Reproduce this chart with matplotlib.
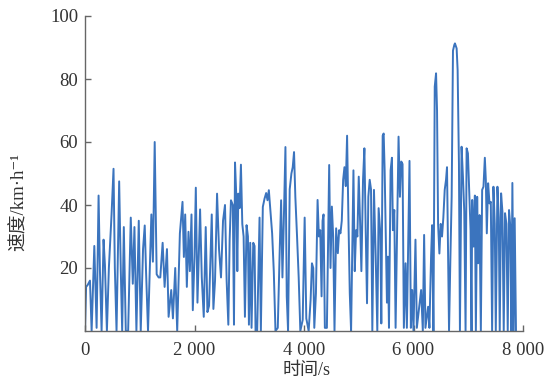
import matplotlib
matplotlib.use("Agg")
import matplotlib.pyplot as plt

# 时间 (s) 与 速度 (km/h)，按图中折线的转折点读取
time_s = [
    0, 20, 48, 91, 121, 170, 212, 248, 273, 303, 339, 364, 400, 436, 485, 521,
    545, 576, 624, 654, 679, 709, 745, 788, 836, 873, 903, 939, 982, 1018, 1060,
    1091, 1115, 1151, 1212, 1240, 1273, 1309, 1345,
    1375, 1418, 1454, 1497, 1527, 1575, 1606, 1648, 1684, 1733, 1781, 1806, 1830,
    1860, 1890, 1915, 1945, 1969, 2000, 2024, 2054, 2102, 2133, 2169, 2205, 2236,
    2266, 2315, 2345, 2375, 2412, 2448, 2484, 2521, 2557, 2587, 2618, 2642, 2666,
    2700, 2721, 2740, 2764, 2782, 2800, 2824, 2848, 2873, 2897, 2921, 2951, 2976,
    2994, 3018, 3042, 3073, 3097, 3115, 3145, 3188, 3212, 3248, 3279, 3309, 3333,
    3358, 3388, 3418, 3448, 3479, 3521, 3558, 3582, 3606, 3630, 3661, 3685, 3709,
    3739, 3770, 3794, 3818, 3842, 3873, 3903, 3933, 3976, 4012, 4042,
    4085, 4121, 4145, 4169, 4188, 4218, 4248, 4272, 4297, 4321, 4339, 4357, 4381,
    4418, 4460, 4484, 4509, 4533, 4557, 4587, 4618, 4642, 4666, 4690, 4715, 4739,
    4763, 4787, 4812, 4836, 4860, 4903, 4927, 4951, 4975, 5000, 5024, 5048, 5078,
    5103, 5127, 5151, 5175, 5200, 5224, 5248, 5278, 5309, 5339, 5363, 5394,
    5412, 5437, 5455, 5473, 5497, 5515, 5533, 5552, 5582, 5606, 5624, 5649, 5673,
    5703, 5727, 5752, 5776, 5800, 5824, 5855, 5879, 5927, 5952, 5976, 6000, 6036,
    6061, 6139, 6170, 6194, 6218, 6267, 6291, 6321, 6340, 6364, 6388, 6412, 6430,
    6449, 6473, 6497, 6521, 6545, 6570, 6594, 6612, 6630, 6649, 6673, 6697, 6721,
    6745, 6757, 6788, 6806, 6830, 6848, 6878, 6903, 6927, 6951, 6970, 6994, 7018,
    7042, 7060, 7072, 7097, 7121, 7139, 7163, 7181, 7206, 7230, 7254, 7278, 7303,
    7321, 7339, 7363, 7388, 7412, 7436, 7460, 7484, 7503, 7533, 7557, 7575, 7600,
    7624, 7648, 7672, 7697, 7721, 7745, 7769, 7788, 7806, 7830, 7848, 7872,
]
speed_kmh = [
    0, 14, 14.6, 16, 0, 27, 1, 43, 19, 0, 29, 21, 0, 20, 37, 51.5,
    20, 0, 47.5, 19, 0, 33, 0, 0, 36, 15, 33, 0, 35, 0, 26,
    33.5, 19, 0, 37, 22, 60, 18, 17,
    17, 28, 14, 26, 4.5, 13, 4, 20, 0, 31, 41, 23.5, 37,
    14, 31.5, 19, 37, 6.6, 23.5, 45.5, 9, 38.6, 17, 4.5, 33, 6,
    8, 37, 7, 16, 43.6, 26, 17, 35, 40, 16, 2, 29, 41.5,
    40, 2, 53.5, 42.5, 19, 43.6, 39, 52.8, 34, 30, 4.5, 33.6, 30,
    2, 28, 1, 28, 27, 0, 0, 36, 0, 39.4, 42, 43.8, 41.5,
    44.7, 38, 31, 19, 0, 1, 26.7, 41.5, 17, 34, 58.4, 11, 0,
    45, 50, 52, 56.8, 42.5, 30, 17, 0, 3.5, 36, 4,
    0, 10, 21.5, 20, 1, 12, 41.6, 30, 32, 11, 35, 37, 1,
    1, 52.7, 20, 39.5, 30, 0, 32.6, 24.7, 32, 31, 35, 48, 52,
    46, 62, 35, 12, 0, 51, 19, 32, 30, 49, 35, 19, 48,
    58, 32, 8.8, 42.6, 48, 45, 0, 44.8, 24, 0, 39, 31,
    2.4, 62, 62.7, 51, 27, 9, 23.6, 1, 51, 55, 32, 38.4, 1,
    36, 61.7, 42.6, 53.8, 53, 1, 21.5, 1, 54, 1, 13, 0, 29,
    1, 13, 0, 30.5, 1, 7.7, 1, 23.6, 33.6, 0, 77.6, 81.8, 70,
    34, 24.6, 34, 30, 36, 44.8, 48, 52, 28, 0, 22.5, 42.6, 89,
    90.8, 91.3, 89.7, 82.8, 53, 0, 58.5, 49, 38, 0, 58, 56.4, 43.7,
    32, 0, 41.6, 26.8, 43, 0, 42.6, 21.5, 36.8, 0, 44.8, 45.8, 55,
    48, 31, 46.9, 40.5, 41, 0, 45.8, 34, 0, 45.8, 36, 0, 43.7,
    37.9, 0, 37.4, 34, 0, 38.4, 33, 0, 47, 0, 35.8, 0,
]

x_ticks = [0, 2000, 4000, 6000, 8000]
x_labels = ["0", "2 000", "4 000", "6 000", "8 000"]
y_ticks = [20, 40, 60, 80, 100]

plt.rcParams["font.family"] = ["Liberation Serif", "Noto Sans CJK SC", "DejaVu Serif"]

fig = plt.figure(figsize=(5.46, 3.81), dpi=100)
ax = fig.add_axes([85 / 546, 50 / 381, 438 / 546, 315 / 381])

ax.plot(time_s, speed_kmh, color="#3b74be", linewidth=1.4)

ax.set_xlim(0, 8000)
ax.set_ylim(0, 100)
ax.set_xticks(x_ticks)
ax.set_xticklabels(x_labels)
ax.set_yticks(y_ticks)

for side in ["top", "right"]:
    ax.spines[side].set_visible(False)
for side in ["left", "bottom"]:
    ax.spines[side].set_color("#666666")
    ax.spines[side].set_linewidth(1.0)

ax.tick_params(axis="both", direction="in", length=4, width=1.0,
               color="#666666", labelsize=13.5, labelcolor="#333333")
ax.tick_params(axis="x", pad=8)
ax.tick_params(axis="y", pad=5)

ax.set_ylabel("速度/km·h⁻¹", fontsize=13.5, color="#333333")
ax.yaxis.set_label_coords(-0.13, 0.41)
ax.set_xlabel("时间/s", fontsize=13, color="#333333")
ax.xaxis.set_label_coords(0.505, -0.1)

fig.savefig("out.png", dpi=100)
